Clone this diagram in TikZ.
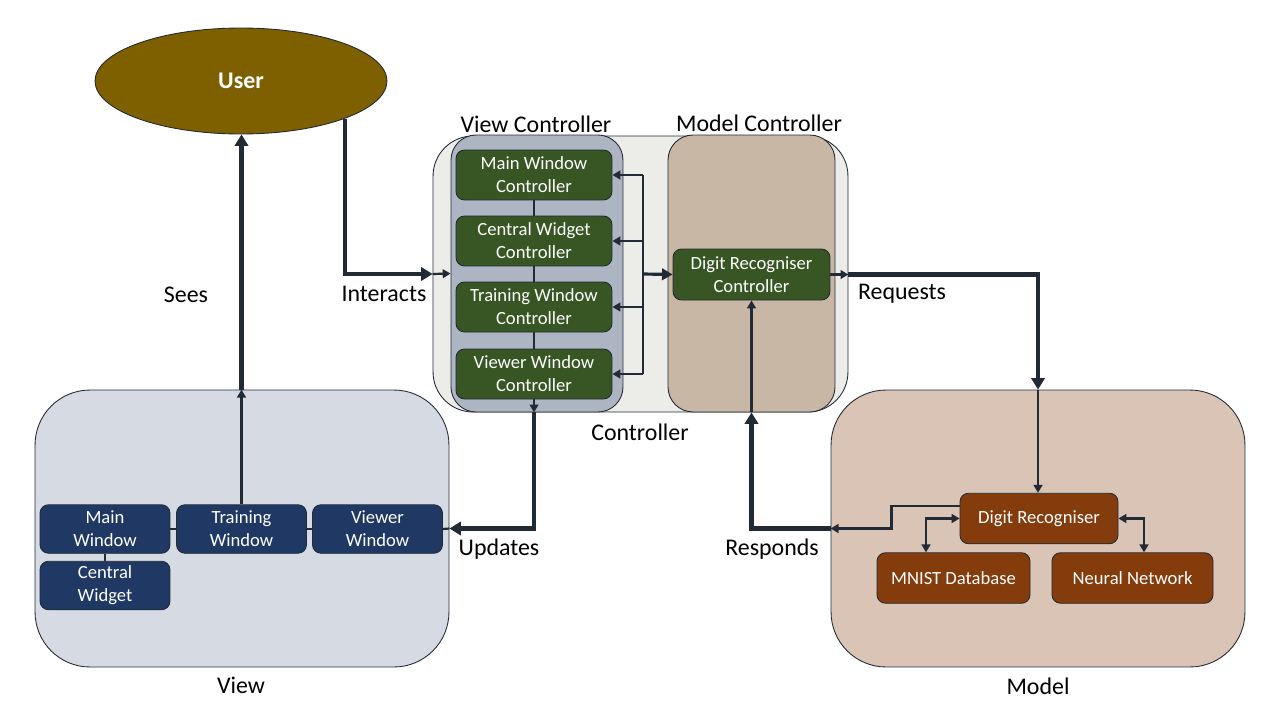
\documentclass[tikz,border=0pt]{standalone}
\usepackage{fontspec}
\setmainfont{Carlito}
\usepackage{tikz}
\usetikzlibrary{calc,positioning,arrows.meta,shapes.geometric}
\usepackage{xcolor}
\definecolor{userbrown}{RGB}{127,96,0}
\definecolor{ctrlgreen}{RGB}{55,86,35}
\definecolor{viewnavy}{RGB}{31,56,100}
\definecolor{modelrust}{RGB}{132,60,12}
\definecolor{viewbg}{RGB}{214,219,227}
\definecolor{modelbg}{RGB}{217,196,181}
\definecolor{ctrlbg}{RGB}{236,237,232}
\definecolor{vcbg}{RGB}{173,181,194}
\definecolor{mcbg}{RGB}{201,183,165}
\definecolor{linedark}{RGB}{34,42,53}

\newcommand{\boxtxt}{\fontsize{10.6}{13}\selectfont}
\newcommand{\labtxt}{\fontsize{13.6}{16}\selectfont}

\tikzset{
  container/.style={draw=linedark, line width=0.5pt, inner sep=0pt},
  item/.style={draw=linedark, line width=0.5pt, rounded corners=0.17cm, text=white, align=center, font=\boxtxt, inner sep=0pt},
  ctrlitem/.style={item, fill=ctrlgreen, minimum width=3.12cm, minimum height=1cm},
  viewitem/.style={item, fill=viewnavy, minimum width=2.6cm, minimum height=0.97cm},
  modelitem/.style={item, fill=modelrust, minimum height=1.01cm},
  lab/.style={font=\labtxt, text=black, inner sep=0pt},
  wire/.style={draw=linedark, line width=1.25pt},
  wirearr/.style={wire, -{Triangle[length=4.5pt,width=5pt]}},
  medarr/.style={draw=linedark, line width=1.8pt, -{Triangle[length=6pt,width=6.5pt]}},
  bigarr/.style={draw=linedark, line width=2.3pt, -{Triangle[length=6.5pt,width=7.5pt]}},
}

\begin{document}
\begin{tikzpicture}[x=0.02cm, y=-0.02cm]
  \useasboundingbox (0,0) rectangle (1280,720);

  % containers
  \node[container, fill=ctrlbg, rounded corners=0.8cm, minimum width=8.3cm, minimum height=5.52cm] (ctrl) at (640.5,274) {};
  \node[container, fill=vcbg, rounded corners=0.5cm, minimum width=3.44cm, minimum height=5.54cm] (vc) at (537,273.5) {};
  \node[container, fill=mcbg, rounded corners=0.5cm, minimum width=3.34cm, minimum height=5.54cm] (mc) at (751.5,273.5) {};
  \node[container, fill=viewbg, rounded corners=1.1cm, minimum width=8.28cm, minimum height=5.54cm] (view) at (242,528.5) {};
  \node[container, fill=modelbg, rounded corners=1.1cm, minimum width=8.28cm, minimum height=5.54cm] (model) at (1038,528.5) {};

  \node[lab] (lvc) at (536,124) {View Controller};
  \node[lab] (lmc) at (759,123) {Model Controller};
  \node[lab] (lctrl) at (640,432) {Controller};
  \node[lab] (lview) at (241,685) {View};
  \node[lab] (lmodel) at (1038,686) {Model};

  % user
  \node[draw=linedark, line width=0.5pt, ellipse, fill=userbrown, minimum width=5.84cm, minimum height=2.12cm, inner sep=0pt, text=white, font=\labtxt\bfseries] (user) at (241,81) {User};

  % view controller
  \node[ctrlitem] (mwc) at (534,175) {Main Window\\Controller};
  \node[ctrlitem] (cwc) at (534,241) {Central Widget\\Controller};
  \node[ctrlitem] (twc) at (534,307) {Training Window\\Controller};
  \node[ctrlitem] (vwc) at (534,374) {Viewer Window\\Controller};
  \draw[wire] (mwc) -- (cwc) (cwc) -- (twc) (twc) -- (vwc);

  % model controller
  \node[ctrlitem, minimum width=3.14cm, minimum height=1.02cm] (drc) at (751.5,274.5) {Digit Recogniser\\Controller};

  % view
  \node[viewitem] (mw) at (105,529) {Main\\Window};
  \node[viewitem] (tw) at (241.5,529) {Training\\Window};
  \node[viewitem] (vw) at (377.5,529) {Viewer\\Window};
  \node[viewitem] (cw) at (105,585.5) {Central\\Widget};
  \draw[wire] (mw) -- (tw) (tw) -- (vw) (mw) -- (cw);

  % model
  \node[modelitem, minimum width=3.16cm] (dr) at (1039,518.5) {Digit Recogniser};
  \node[modelitem, minimum width=3.06cm] (mnist) at (953.5,578) {MNIST Database};
  \node[modelitem, minimum width=3.22cm] (nn) at (1132.5,578) {Neural Network};
  \draw[wire, {Triangle[length=4.5pt,width=5pt]}-{Triangle[length=4.5pt,width=5pt]}] ($(mnist.north)+(-27.5,0)$) |- (dr.west);
  \draw[wire, {Triangle[length=4.5pt,width=5pt]}-{Triangle[length=4.5pt,width=5pt]}] ($(nn.north)+(11.5,0)$) |- (dr.east);

  % controller bus
  \coordinate (bus) at (643,274);
  \draw[wire] (bus |- mwc.east) -- (bus |- vwc.east);
  \foreach \n in {mwc,cwc,twc,vwc}
    \draw[wirearr] (bus |- \n.east) -- (\n.east);
  \draw[medarr] (bus) -- (drc.west);

  % interacts
  \draw[bigarr] (user.-20) |- (ctrl.west);
  \draw[wirearr] (ctrl.west) -- (vc.west);
  \node[lab] (linter) at (384,294) {Interacts};

  % sees
  \draw[wirearr] (tw.north) -- (tw.north |- view.north);
  \draw[bigarr] (tw.north |- view.north) -- (tw.north |- user.south);
  \node[lab] (lsees) at (186,295) {Sees};

  % updates
  \draw[wirearr] (vwc.south) -- (vwc.south |- vc.south);
  \draw[bigarr] (vwc.south |- vc.south) |- (view.east);
  \draw[wire] (view.east) -- (vw.east);
  \node[lab] (lupd) at (499,549) {Updates};

  % requests
  \draw[wirearr] (drc.east) -- (drc.east -| ctrl.east);
  \draw[bigarr] (drc.east -| ctrl.east) -| (model.north);
  \draw[wirearr] (model.north) -- (model.north |- dr.north);
  \node[lab] (lreq) at (902,294) {Requests};

  % responds
  \draw[wirearr] ($(dr.west)+(0,-12.5)$) -- ++(-68,0) |- (model.west);
  \draw[bigarr] (model.west) -| (mc.south);
  \draw[wirearr] (mc.south) -- (drc.south);
  \node[lab] (lresp) at (772,549) {Responds};
\end{tikzpicture}
\end{document}
